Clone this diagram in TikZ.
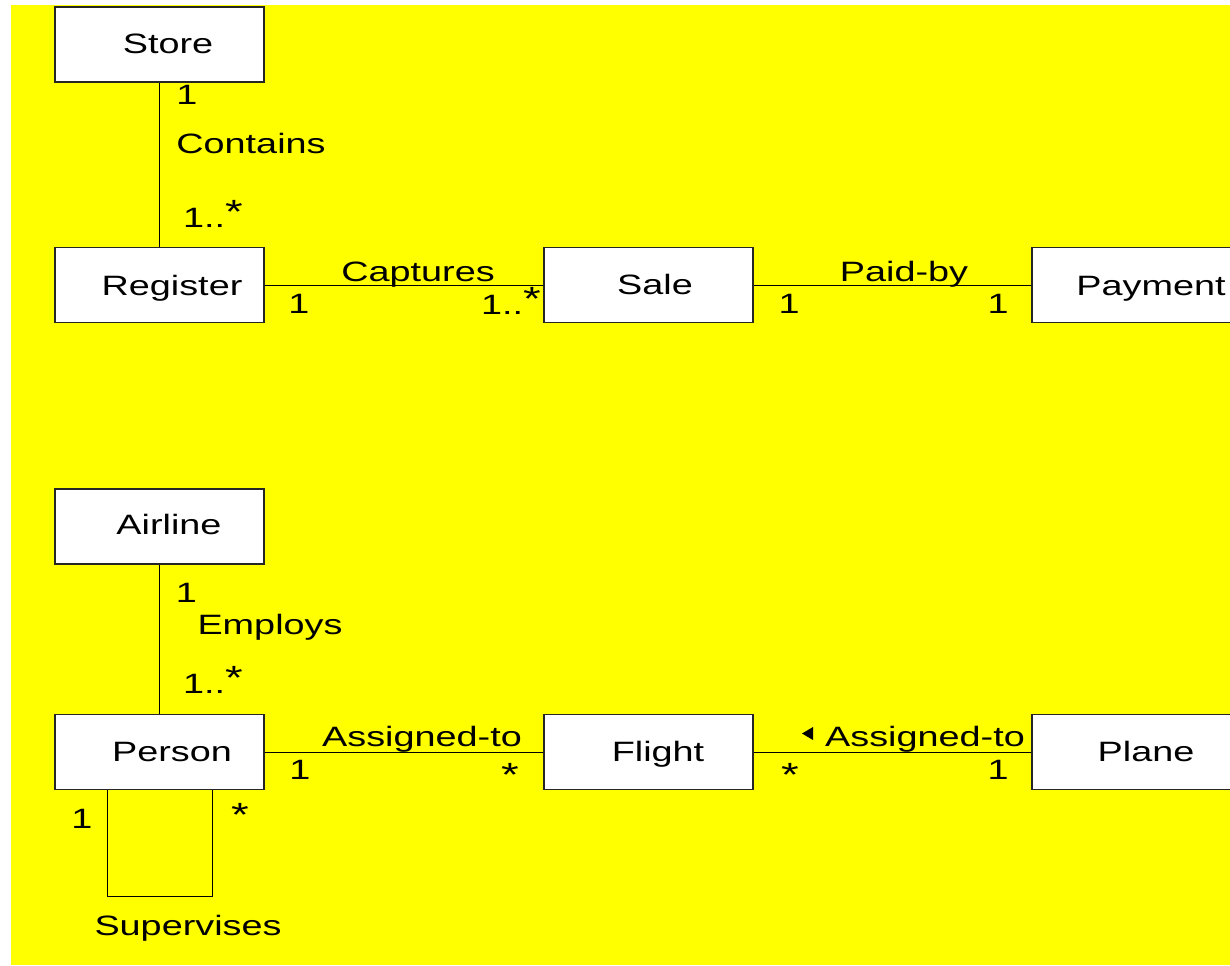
\documentclass[tikz,border=0pt]{standalone}
\usepackage{fontspec}
\setmainfont{Liberation Sans}[FakeStretch=1.35]
\usetikzlibrary{calc}
\definecolor{bgyellow}{RGB}{255,255,0}
\newcommand{\mstar}{\raisebox{0.5pt}{\scalebox{1.2}{*}}}
\newcommand{\mstarup}{\raisebox{2pt}{\scalebox{1.2}{*}}}
\begin{document}
\begin{tikzpicture}[x=0.5pt,y=-0.5pt,
  cls/.style={draw=black!85, fill=white, line width=0.6pt,
    minimum width=104.5pt, minimum height=37.5pt, inner sep=0pt},
  txt/.style={anchor=base, inner sep=0pt, font=\fontsize{14pt}{16pt}\selectfont},
  assoc/.style={draw=black, line width=0.5pt}]
\useasboundingbox (0,0) rectangle (1230,965);
\clip (0,0) rectangle (1230,965);
\fill[bgyellow] (11,5) rectangle (1230,965);

% class boxes
\node[cls] (store)    at (159.5,44.5)  {};
\node[cls] (register) at (159.5,285)   {};
\node[cls] (sale)     at (648.5,285)   {};
\node[cls] (payment)  at (1136.5,285)  {};
\node[cls] (airline)  at (159.5,526.5) {};
\node[cls] (person)   at (159.5,752)   {};
\node[cls] (flight)   at (648.5,752)   {};
\node[cls] (plane)    at (1136.5,752)  {};

% class names
\node[txt] (storeName)    at (168,53)   {Store};
\node[txt] (registerName) at (172,295)  {Register};
\node[txt] (saleName)     at (655,294)  {Sale};
\node[txt] (paymentName)  at (1151,295) {Payment};
\node[txt] (airlineName)  at (169,534)  {Airline};
\node[txt] (personName)   at (172,761)  {Person};
\node[txt] (flightName)   at (658,761)  {Flight};
\node[txt] (planeName)    at (1146,761) {Plane};

% associations
\draw[assoc] (store) -- (register);
\draw[assoc] (register) -- (sale);
\draw[assoc] (sale) -- (payment);
\draw[assoc] (airline) -- (person);
\draw[assoc] (person) -- (flight);
\draw[assoc] (flight) -- (plane);
\draw[assoc] ($(person.south)+(-52.5,0)$) -- ++(0,106.5) -| ($(person.south)+(52.5,0)$);

% Store - Register
\node[txt] (m1) at (187,104) {1};
\node[txt] (contains) at (251,153) {Contains};
\node[txt] (m2) at (213,227) {1..\mstarup};

% Register - Sale
\node[txt] (captures) at (418,281) {Captures};
\node[txt] (m3) at (299,313) {1};
\node[txt] (m4) at (511,314) {1..\mstarup};

% Sale - Payment
\node[txt] (paidby) at (904,281) {Paid-by};
\node[txt] (m5) at (789,313) {1};
\node[txt] (m6) at (998,313) {1};

% Airline - Person
\node[txt] (m7) at (186.5,602) {1};
\node[txt] (employs) at (270,634) {Employs};
\node[txt] (m8) at (213,693) {1..\mstarup};

% Person - Flight
\node[txt] (assign1) at (422,746) {Assigned-to};
\node[txt] (m9) at (300,779) {1};
\node[txt] (m10) at (510,787) {\mstar};

% Flight - Plane
\fill (802,733.5) -- (813,727) -- (813,740) -- cycle;
\node[txt] (assign2) at (925,746) {Assigned-to};
\node[txt] (m11) at (790,787) {\mstar};
\node[txt] (m12) at (998,779) {1};

% Person supervises Person
\node[txt] (m13) at (82,828) {1};
\node[txt] (m14) at (240,827) {\mstar};
\node[txt] (supervises) at (188,935) {Supervises};
\end{tikzpicture}
\end{document}
